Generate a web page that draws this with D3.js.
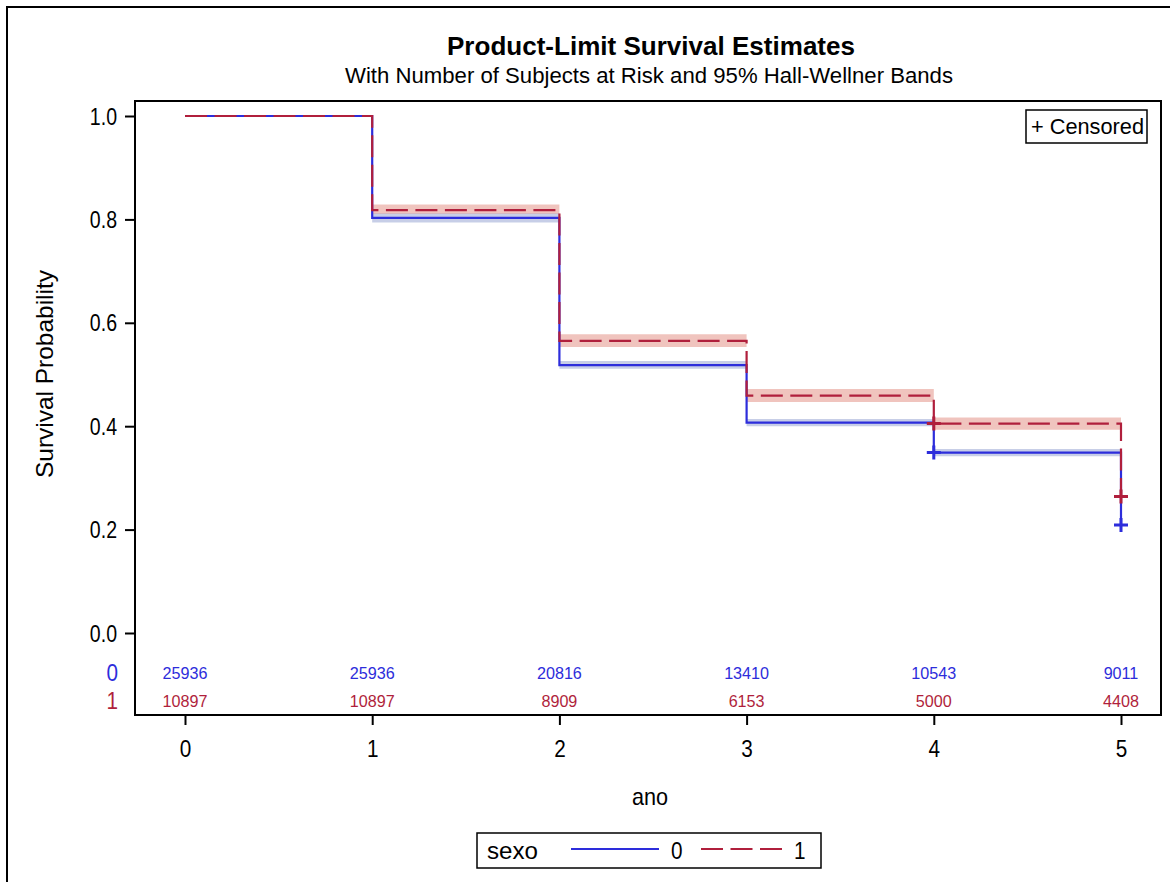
<!DOCTYPE html>
<html>
<head>
<meta charset="utf-8">
<script src="https://cdn.jsdelivr.net/npm/d3@7"></script>
<style>
  html, body { margin: 0; padding: 0; background: #fff; }
  svg { display: block; font-family: "Liberation Sans", Arial, sans-serif; }
</style>
</head>
<body>
<svg id="chart" width="1170" height="882"></svg>
<script>
// Kaplan-Meier estimates by sexo, yearly steps
const times = [0, 1, 2, 3, 4, 5];
const groups = ["0", "1"];
const surv0 = [1.0, 0.803, 0.518, 0.407, 0.349, 0.209];
const surv1 = [1.0, 0.818, 0.565, 0.459, 0.405, 0.264];
// 95% Hall-Wellner band on each interval [t, t+1)
const lower0 = [1.0, 0.794, 0.511, 0.400, 0.342];
const upper0 = [1.0, 0.812, 0.526, 0.414, 0.356];
const lower1 = [1.0, 0.811, 0.553, 0.447, 0.393];
const upper1 = [1.0, 0.829, 0.578, 0.472, 0.417];
// censored observations (time index)
const censorTimes = [4, 5];
// number of subjects at risk
const atRisk0 = [25936, 25936, 20816, 13410, 10543, 9011];
const atRisk1 = [10897, 10897, 8909, 6153, 5000, 4408];
const yTicks = [0, 0.2, 0.4, 0.6, 0.8, 1.0];
const xTicks = [0, 1, 2, 3, 4, 5];

const blue = "#2d2ddb", red = "#b01f3c";
const series = [
  { name: groups[0], surv: surv0, lo: lower0, hi: upper0, risk: atRisk0, color: blue,
    band: "rgb(107,127,192)", bandOp: 0.38, dash: null },
  { name: groups[1], surv: surv1, lo: lower1, hi: upper1, risk: atRisk1, color: red,
    band: "rgb(217,104,88)", bandOp: 0.39, dash: "22,7.5" }
];

// squeeze glyphs horizontally, like the narrow graph font
function condense(sel, k) {
  sel.each(function () {
    const w = this.getComputedTextLength();
    d3.select(this).attr("textLength", w * k).attr("lengthAdjust", "spacingAndGlyphs");
  });
}

const svg = d3.select("#chart");
const frame = { left: 135, top: 101, right: 1161, bottom: 715 };
const x = d3.scaleLinear().domain([0, 5]).range([185, 1121]);
const y = d3.scaleLinear().domain([0, 1]).range([633, 116]);

// outer border
svg.append("rect").attr("x", 7).attr("y", 7).attr("width", 1180).attr("height", 900)
  .attr("fill", "none").attr("stroke", "#000").attr("stroke-width", 2);

// titles
svg.append("text").attr("x", 651).attr("y", 55).attr("text-anchor", "middle")
  .attr("font-size", 26).attr("font-weight", "bold")
  .attr("textLength", 408).attr("lengthAdjust", "spacingAndGlyphs")
  .text("Product-Limit Survival Estimates");
svg.append("text").attr("x", 649).attr("y", 83).attr("text-anchor", "middle")
  .attr("font-size", 21.5)
  .attr("textLength", 608).attr("lengthAdjust", "spacingAndGlyphs")
  .text("With Number of Subjects at Risk and 95% Hall-Wellner Bands");

// confidence bands
const area = d3.area().curve(d3.curveStepAfter)
  .x(d => x(d.t)).y0(d => y(d.lo)).y1(d => y(d.hi));
series.forEach(s => {
  const pts = s.lo.map((v, i) => ({ t: times[i], lo: v, hi: s.hi[i] }));
  const last = pts[pts.length - 1];
  pts.push({ t: times[times.length - 1], lo: last.lo, hi: last.hi });
  svg.append("path").datum(pts.slice(1))
    .attr("d", area).attr("fill", s.band).attr("fill-opacity", s.bandOp);
});

// survival step curves
const line = d3.line().curve(d3.curveStepAfter).x((d, i) => x(times[i])).y(d => y(d));
series.forEach(s => {
  svg.append("path").datum(s.surv).attr("d", line)
    .attr("fill", "none").attr("stroke", s.color).attr("stroke-width", 2.2)
    .attr("stroke-dasharray", s.dash);
});

// censor marks
series.forEach(s => {
  censorTimes.forEach(ti => {
    const cx = x(times[ti]), cy = y(s.surv[ti]);
    svg.append("path")
      .attr("d", `M${cx - 7},${cy}H${cx + 7}M${cx},${cy - 7}V${cy + 7}`)
      .attr("stroke", s.color).attr("stroke-width", 3).attr("fill", "none");
  });
});

// plot frame
svg.append("rect").attr("x", frame.left).attr("y", frame.top)
  .attr("width", frame.right - frame.left).attr("height", frame.bottom - frame.top)
  .attr("fill", "none").attr("stroke", "#000").attr("stroke-width", 2);

// y axis
const yAxis = svg.append("g").attr("transform", `translate(${frame.left},0)`)
  .call(d3.axisLeft(y).tickValues(yTicks).tickFormat(d3.format(".1f"))
    .tickSize(10).tickPadding(8));
yAxis.select(".domain").remove();
yAxis.selectAll("line").attr("stroke-width", 2);
yAxis.selectAll("text").attr("font-size", 23).attr("fill", "#000").attr("dy", "0.35em")
  .attr("font-family", "Liberation Sans, Arial, sans-serif").call(condense, 0.85);

// x axis
const xAxis = svg.append("g").attr("transform", `translate(0,${frame.bottom})`)
  .call(d3.axisBottom(x).tickValues(xTicks).tickFormat(d3.format("d"))
    .tickSize(10).tickPadding(16));
xAxis.select(".domain").remove();
xAxis.selectAll("line").attr("stroke-width", 2);
xAxis.selectAll("text").attr("font-size", 23).attr("fill", "#000")
  .attr("font-family", "Liberation Sans, Arial, sans-serif").call(condense, 0.9);

// axis labels
svg.append("text").attr("x", 650).attr("y", 805).attr("text-anchor", "middle")
  .attr("font-size", 24).text("ano").call(condense, 0.9);
svg.append("text").attr("transform", "translate(53,374) rotate(-90)")
  .attr("text-anchor", "middle").attr("font-size", 24)
  .attr("textLength", 208).attr("lengthAdjust", "spacingAndGlyphs")
  .text("Survival Probability");

// subjects at risk rows
const rowY = [679, 707];
series.forEach((s, gi) => {
  svg.append("text").attr("x", 118).attr("y", rowY[gi] + 2).attr("text-anchor", "end")
    .attr("font-size", 23).attr("fill", s.color).text(s.name).call(condense, 0.9);
  svg.append("g").selectAll("text").data(s.risk).join("text")
    .attr("x", (d, i) => x(times[i])).attr("y", rowY[gi])
    .attr("text-anchor", "middle").attr("font-size", 17).attr("fill", s.color)
    .text(d => d).call(condense, 0.95);
});

// censored inset legend
svg.append("rect").attr("x", 1026).attr("y", 110).attr("width", 121).attr("height", 33)
  .attr("fill", "#fff").attr("stroke", "#000").attr("stroke-width", 1.5);
svg.append("text").attr("x", 1031).attr("y", 134).attr("font-size", 22.5)
  .attr("textLength", 113).attr("lengthAdjust", "spacingAndGlyphs").text("+ Censored");

// group legend
const lg = svg.append("g");
lg.append("rect").attr("x", 477).attr("y", 833).attr("width", 344).attr("height", 35)
  .attr("fill", "#fff").attr("stroke", "#000").attr("stroke-width", 1.5);
lg.append("text").attr("x", 487).attr("y", 859).attr("font-size", 24)
  .attr("textLength", 51).attr("lengthAdjust", "spacingAndGlyphs").text("sexo");
const legendItems = [
  { x0: 571, x1: 659, tx: 671 },
  { x0: 701, x1: 782, tx: 794 }
];
series.forEach((s, i) => {
  const it = legendItems[i];
  lg.append("line").attr("x1", it.x0).attr("x2", it.x1).attr("y1", 849).attr("y2", 849)
    .attr("stroke", s.color).attr("stroke-width", 2).attr("stroke-dasharray", s.dash);
  lg.append("text").attr("x", it.tx).attr("y", 859).attr("font-size", 23).text(s.name)
    .call(condense, 0.9);
});
</script>
</body>
</html>
